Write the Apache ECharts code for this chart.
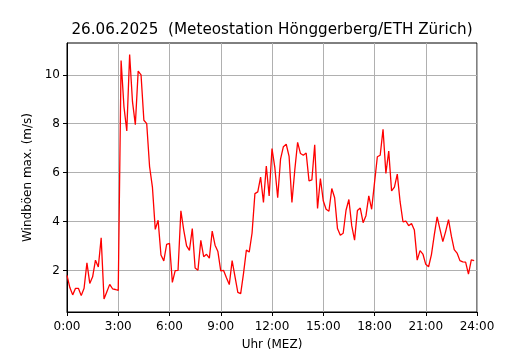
<!DOCTYPE html>
<html>
<head>
<meta charset="utf-8">
<script src="https://cdn.jsdelivr.net/npm/echarts@6/dist/echarts.min.js"></script>
<style>html,body{margin:0;padding:0;background:#fff}#c{width:530px;height:350px}</style>
</head>
<body>
<div id="c"></div>
<script>
const titleText = '26.06.2025  (Meteostation Hönggerberg/ETH Zürich)';
const xLabel = 'Uhr (MEZ)';
const yLabel = 'Windböen max. (m/s)';
const stepMinutes = 10;
const xTicks = [0, 3, 6, 9, 12, 15, 18, 21, 24];
const yTicks = [2, 4, 6, 8, 10];
const gusts = [
  1.8, 1.3, 1.0, 1.27, 1.27, 0.97, 1.27, 2.31, 1.47, 1.74, 2.42, 2.14,
  3.33, 0.83, 1.13, 1.43, 1.25, 1.22, 1.18, 10.58, 8.7, 7.7, 10.83, 8.9,
  7.96, 10.15, 10.0, 8.14, 8.0, 6.25, 5.41, 3.68, 4.05, 2.63, 2.39, 3.07,
  3.11, 1.51, 1.99, 2.0, 4.44, 3.65, 3.0, 2.82, 3.71, 2.1, 2.01, 3.23,
  2.56, 2.66, 2.5, 3.61, 3.03, 2.77, 1.98, 2.0, 1.7, 1.42, 2.4, 1.75,
  1.1, 1.05, 1.88, 2.83, 2.75, 3.53, 5.14, 5.21, 5.82, 4.78, 6.27, 5.05,
  6.98, 6.2, 4.97, 6.55, 7.06, 7.16, 6.66, 4.78, 6.1, 7.24, 6.78, 6.71,
  6.8, 5.66, 5.7, 7.14, 4.53, 5.76, 4.85, 4.5, 4.42, 5.35, 4.97, 3.71,
  3.44, 3.52, 4.46, 4.9, 3.83, 3.24, 4.45, 4.55, 3.95, 4.24, 5.05, 4.5,
  5.58, 6.65, 6.71, 7.77, 5.97, 6.88, 5.25, 5.41, 5.94, 4.8, 3.99, 4.02,
  3.83, 3.92, 3.65, 2.42, 2.81, 2.67, 2.25, 2.15, 2.65, 3.45, 4.19, 3.68,
  3.18, 3.6, 4.08, 3.4, 2.85, 2.71, 2.4, 2.35, 2.34, 1.85, 2.43, 2.4
];
const seriesData = gusts.map((v, i) => [i * stepMinutes / 60, v]);

const font = 'DejaVu Sans';
const chart = echarts.init(document.getElementById('c'), null, {renderer: 'canvas'});
chart.setOption({
  animation: false,
  backgroundColor: '#ffffff',
  title: {
    text: titleText, left: 272, top: 23, textAlign: 'center', padding: 0,
    textStyle: {fontFamily: font, fontSize: 15.2, fontWeight: 'normal', color: '#000'}
  },
  grid: {left: 67, right: 53, top: 43, bottom: 38, show: true, borderColor: '#000', borderWidth: 1,
    backgroundColor: 'transparent', containLabel: false, outerBoundsMode: 'none'},
  xAxis: {
    type: 'value', min: 0, max: 24, interval: 3,
    name: xLabel, nameLocation: 'middle', nameGap: 27,
    nameTextStyle: {fontFamily: font, fontSize: 12, color: '#000'},
    axisLine: {show: true, lineStyle: {color: '#000', width: 1}},
    axisTick: {show: true, length: 4, lineStyle: {color: '#000', width: 1}},
    axisLabel: {fontFamily: font, fontSize: 12, color: '#000', margin: 9,
      formatter: v => Math.round(v) + ':00'},
    splitLine: {show: true, lineStyle: {color: '#b0b0b0', width: 1}}
  },
  yAxis: {
    type: 'value', min: 0.3, max: 11.3,
    name: yLabel, nameLocation: 'middle', nameGap: 32, nameRotate: 90,
    nameTextStyle: {fontFamily: font, fontSize: 12, color: '#000'},
    axisLine: {show: true, lineStyle: {color: '#000', width: 1}},
    axisTick: {show: true, length: 4, customValues: yTicks, lineStyle: {color: '#000', width: 1}},
    axisLabel: {fontFamily: font, fontSize: 12, color: '#000', margin: 7, customValues: yTicks,
      formatter: v => String(v)},
    splitLine: {show: true, lineStyle: {color: '#b0b0b0', width: 1}}
  },
  series: [{
    type: 'line', data: seriesData, showSymbol: false, symbol: 'none',
    lineStyle: {color: '#ff0000', width: 1.3}, clip: true
  }]
});
</script>
</body>
</html>
